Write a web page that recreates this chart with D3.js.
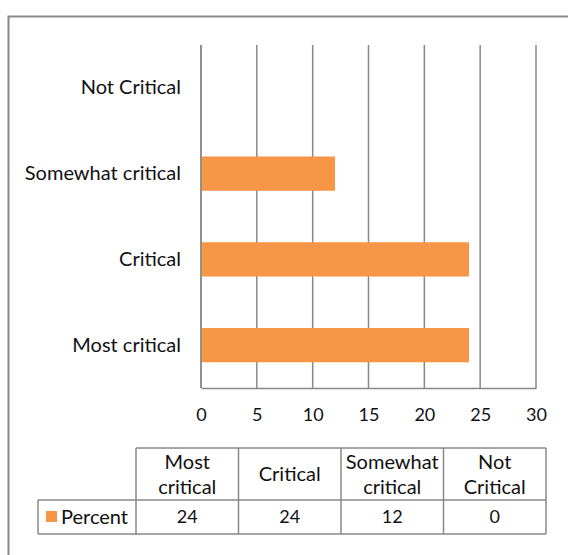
<!DOCTYPE html>
<html>
<head>
<meta charset="utf-8">
<script src="https://cdn.jsdelivr.net/npm/d3@7"></script>
<style>
  html, body { margin: 0; padding: 0; background: #fff; }
  svg { display: block; font-family: Lato, "Open Sans", sans-serif; }
</style>
</head>
<body>
<svg id="chart" width="568" height="555"></svg>
<script>
// Categories, top to bottom as drawn on the chart
const categories = ["Not Critical", "Somewhat critical", "Critical", "Most critical"];
// Percent values for each category (same order)
const percentValues = [0, 12, 24, 24];
// x axis ticks
const xTicks = [0, 5, 10, 15, 20, 25, 30];
// Data table columns (left to right) and their header lines
const tableCategories = ["Most critical", "Critical", "Somewhat critical", "Not Critical"];
const tableHeaders = [["Most", "critical"], ["Critical"], ["Somewhat", "critical"], ["Not", "Critical"]];
const seriesName = "Percent";

const orange = "#F79646";
const gray = "#888888";
const textColor = "#111";
const labelSize = 20;
const numberSize = 18;

const svg = d3.select("#chart");

// outer chart frame
svg.append("rect")
  .attr("x", 8.5).attr("y", 16.5)
  .attr("width", 600).attr("height", 600)
  .attr("fill", "none").attr("stroke", gray).attr("stroke-width", 2);

const plot = { left: 201, right: 536, top: 45, bottom: 388 };

const x = d3.scaleLinear().domain([0, 30]).range([plot.left, plot.right]);
const y = d3.scaleBand().domain(categories).range([plot.top, plot.bottom]).paddingInner(0.6).paddingOuter(0.3);

// vertical gridlines
svg.append("g").selectAll("line")
  .data(xTicks)
  .join("line")
  .attr("x1", d => x(d)).attr("x2", d => x(d))
  .attr("y1", plot.top).attr("y2", plot.bottom)
  .attr("stroke", gray).attr("stroke-width", 1.5);

// bars
svg.append("g").selectAll("rect")
  .data(categories.map((c, i) => ({ c, v: percentValues[i] })))
  .join("rect")
  .attr("x", x(0))
  .attr("y", d => y(d.c))
  .attr("width", d => x(d.v) - x(0))
  .attr("height", y.bandwidth())
  .attr("fill", orange);

// category axis line (left) and value axis line (bottom)
svg.append("line")
  .attr("x1", x(0)).attr("x2", x(0)).attr("y1", plot.top).attr("y2", plot.bottom)
  .attr("stroke", gray).attr("stroke-width", 1.5);

const xAxis = svg.append("g")
  .attr("transform", `translate(0,${plot.bottom})`)
  .call(d3.axisBottom(x).tickValues(xTicks).tickSize(0).tickPadding(20));
xAxis.select(".domain").attr("stroke", gray).attr("stroke-width", 1.5);
xAxis.selectAll("text").attr("font-size", numberSize).attr("fill", textColor).attr("font-family", "Lato");

// category labels
const yAxis = svg.append("g")
  .attr("transform", `translate(${plot.left},0)`)
  .call(d3.axisLeft(y).tickSize(0).tickPadding(20));
yAxis.select(".domain").remove();
yAxis.selectAll("text").attr("font-size", labelSize).attr("fill", textColor).attr("font-family", "Lato");

// data table
const colX = d3.scaleBand().domain(tableCategories).range([136, 546]);
const rowTop = 448, rowMid = 500, rowBot = 534, tableLeft = 38;
const tbl = svg.append("g").attr("stroke", gray).attr("stroke-width", 1.5).attr("fill", "none");
tbl.append("line").attr("x1", 136).attr("x2", 546).attr("y1", rowTop).attr("y2", rowTop);
tbl.append("line").attr("x1", tableLeft).attr("x2", 546).attr("y1", rowMid).attr("y2", rowMid);
tbl.append("line").attr("x1", tableLeft).attr("x2", 546).attr("y1", rowBot).attr("y2", rowBot);
tbl.append("line").attr("x1", tableLeft).attr("x2", tableLeft).attr("y1", rowMid).attr("y2", rowBot);
tbl.selectAll("line.col")
  .data(tableCategories.concat(["end"]))
  .join("line")
  .attr("class", "col")
  .attr("x1", (d, i) => 136 + i * colX.bandwidth())
  .attr("x2", (d, i) => 136 + i * colX.bandwidth())
  .attr("y1", rowTop).attr("y2", rowBot);

// header text
const header = svg.append("g").attr("font-size", labelSize).attr("fill", textColor).attr("text-anchor", "middle");
tableCategories.forEach((c, i) => {
  const lines = tableHeaders[i];
  const cx = colX(c) + colX.bandwidth() / 2;
  const cy = (rowTop + rowMid) / 2;
  lines.forEach((ln, j) => {
    header.append("text")
      .attr("x", cx)
      .attr("y", cy + (j - (lines.length - 1) / 2) * 25)
      .attr("dy", "0.35em")
      .text(ln);
  });
});

// value row
const valueByCat = new Map(categories.map((c, i) => [c, percentValues[i]]));
svg.append("g").attr("font-size", numberSize).attr("fill", textColor).attr("text-anchor", "middle")
  .selectAll("text")
  .data(tableCategories)
  .join("text")
  .attr("x", d => colX(d) + colX.bandwidth() / 2)
  .attr("y", (rowMid + rowBot) / 2)
  .attr("dy", "0.35em")
  .text(d => valueByCat.get(d));

// legend key in table
svg.append("rect").attr("x", 46).attr("y", 511).attr("width", 11).attr("height", 11).attr("fill", orange);
svg.append("text").attr("x", 61).attr("y", (rowMid + rowBot) / 2).attr("dy", "0.35em")
  .attr("font-size", labelSize).attr("fill", textColor).text(seriesName);
</script>
</body>
</html>
